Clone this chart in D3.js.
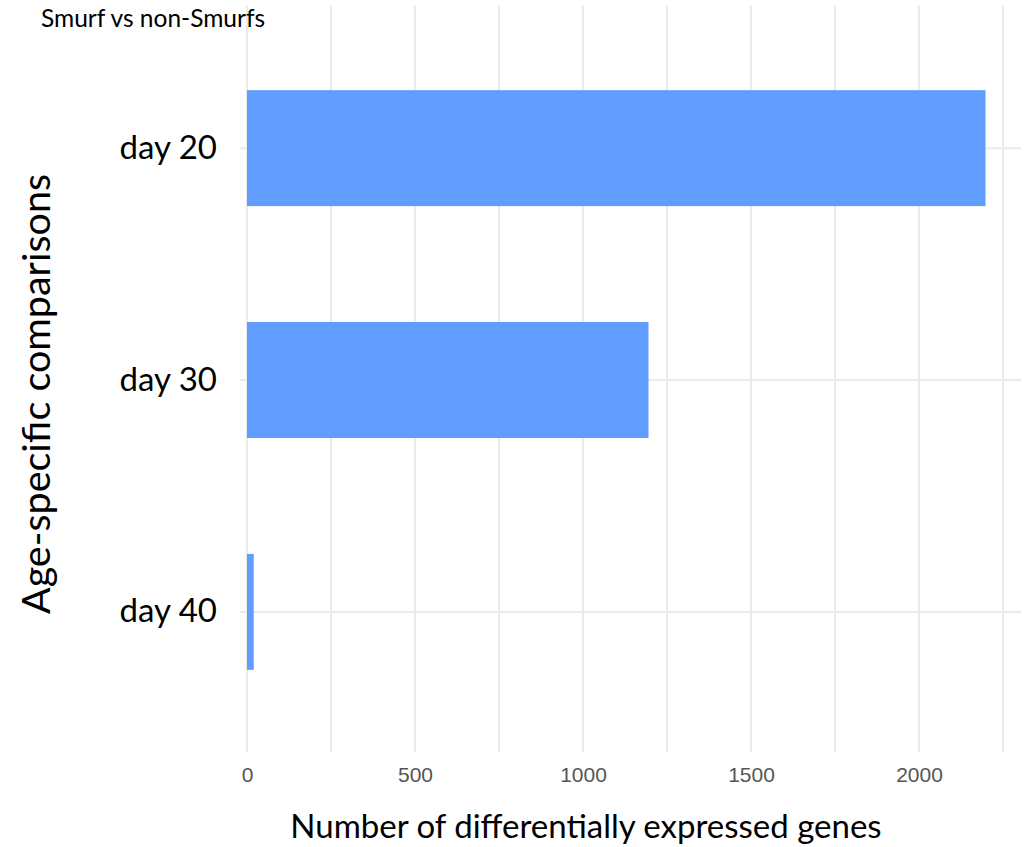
<!DOCTYPE html>
<html>
<head>
<meta charset="utf-8">
<script src="https://cdn.jsdelivr.net/npm/d3@7"></script>
<style>
  html, body { margin: 0; padding: 0; background: #ffffff; }
  svg { display: block; }
</style>
</head>
<body>
<svg id="chart" width="1035" height="847"></svg>
<script>
// ---- Data ----
const categories = ["day 20", "day 30", "day 40"];
const values = [2198, 1195, 20];
const xTicks = [0, 500, 1000, 1500, 2000];
const xGridTicks = [0, 250, 500, 750, 1000, 1250, 1500, 1750, 2000, 2250];
const chartTitle = "Smurf vs non-Smurfs";
const xTitle = "Number of differentially expressed genes";
const yTitle = "Age-specific comparisons";

// ---- Layout ----
const svg = d3.select("#chart");
const panel = { left: 240, right: 1021, top: 5, bottom: 752 };

const x = d3.scaleLinear().domain([0, 2250]).range([247, 1003]);
const y = d3.scaleBand().domain(categories).range([9, 751])
  .paddingInner(0.5).paddingOuter(0.35);

const textFont = "Lato, 'Open Sans', sans-serif";
const gridColor = "#ebebeb";

// vertical grid lines
svg.append("g").selectAll("line").data(xGridTicks).join("line")
  .attr("x1", d => x(d)).attr("x2", d => x(d))
  .attr("y1", panel.top).attr("y2", panel.bottom)
  .attr("stroke", gridColor).attr("stroke-width", 2);

// horizontal grid lines
svg.append("g").selectAll("line").data(categories).join("line")
  .attr("x1", panel.left).attr("x2", panel.right)
  .attr("y1", d => y(d) + y.bandwidth() / 2).attr("y2", d => y(d) + y.bandwidth() / 2)
  .attr("stroke", gridColor).attr("stroke-width", 2);

// bars
svg.append("g").selectAll("rect").data(categories).join("rect")
  .attr("x", x(0))
  .attr("y", d => y(d))
  .attr("width", (d, i) => x(values[i]) - x(0))
  .attr("height", y.bandwidth())
  .attr("fill", "#619CFF");

// x tick labels
const xAxis = d3.axisBottom(x).tickValues(xTicks).tickSize(0).tickPadding(0).tickFormat(d3.format("d"));
const gx = svg.append("g").attr("transform", "translate(0,767)").call(xAxis);
gx.select(".domain").remove();
gx.selectAll("text")
  .attr("dy", "0.71em")
  .attr("y", 0)
  .style("font-family", "'Liberation Sans', Arial, sans-serif")
  .style("font-size", "21px")
  .attr("fill", "#555555");

// y tick labels
const yAxis = d3.axisLeft(y).tickSize(0).tickPadding(0);
const gy = svg.append("g").attr("transform", "translate(217,0)").call(yAxis);
gy.select(".domain").remove();
gy.selectAll("text")
  .style("font-family", textFont)
  .style("font-size", "33px")
  .attr("fill", "#000000");

// titles
svg.append("text")
  .attr("x", 41).attr("y", 27)
  .style("font-family", textFont).style("font-size", "24.5px")
  .attr("fill", "#000")
  .text(chartTitle);

svg.append("text")
  .attr("x", 586).attr("y", 838)
  .attr("text-anchor", "middle")
  .style("font-family", textFont).style("font-size", "33px")
  .attr("fill", "#000")
  .text(xTitle);

svg.append("text")
  .attr("transform", "translate(50,394) rotate(-90)")
  .attr("text-anchor", "middle")
  .style("font-family", textFont).style("font-size", "39.5px")
  .attr("fill", "#000")
  .text(yTitle);
</script>
</body>
</html>
